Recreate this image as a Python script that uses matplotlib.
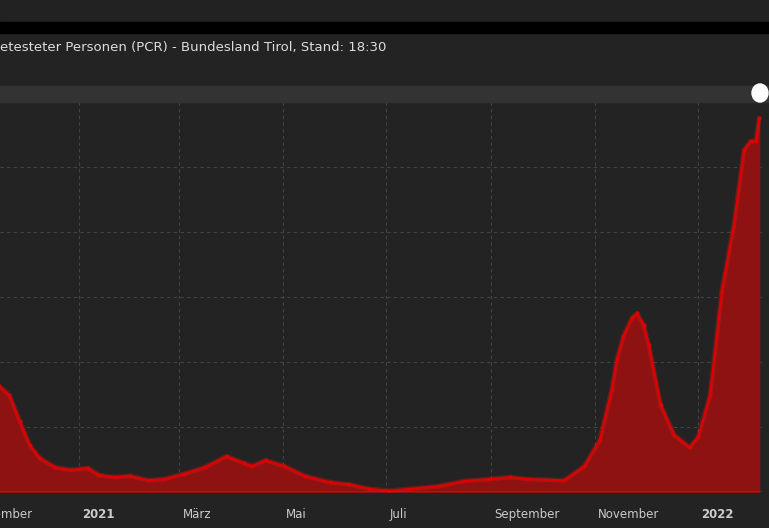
import matplotlib
matplotlib.use("Agg")
import matplotlib.pyplot as plt
import numpy as np
import pandas as pd
from matplotlib.patches import Rectangle, Ellipse

dates = ["2020-11-15","2020-11-21","2020-11-27","2020-12-03","2020-12-09","2020-12-18","2020-12-27",
 "2021-01-06","2021-01-13","2021-01-22","2021-01-31","2021-02-11","2021-02-20","2021-03-04","2021-03-16",
 "2021-03-29","2021-04-08","2021-04-13","2021-04-21","2021-05-02","2021-05-14","2021-05-29","2021-06-09",
 "2021-06-21","2021-07-03","2021-07-15","2021-08-01","2021-08-16","2021-08-31","2021-09-12","2021-09-23",
 "2021-10-14","2021-10-26","2021-11-04","2021-11-11","2021-11-14","2021-11-18","2021-11-23","2021-11-26",
 "2021-11-30","2021-12-03","2021-12-10",
 "2021-12-18","2021-12-27","2022-01-01","2022-01-08","2022-01-15","2022-01-22","2022-01-28","2022-02-01",
 "2022-02-04","2022-02-06"]
values = [1630,1490,1100,720,520,380,340,370,260,230,250,180,200,280,380,550,450,400,490,400,250,150,120,
 50,20,50,90,170,200,230,200,180,400,800,1570,2030,2400,2680,2750,2570,2260,1340,880,690,850,1490,3100,
 4100,5260,5400,5400,5750]
tick_dates = ["2020-12-01","2021-01-01","2021-03-01","2021-05-01","2021-07-01","2021-09-01","2021-11-01","2022-01-01"]
tick_labels = ["Dezember","2021","März","Mai","Juli","September","November","2022"]
title = "etesteter Personen (PCR) - Bundesland Tirol, Stand: 18:30"

d = pd.to_datetime(dates)
v = np.array(values)
FONT = ["Liberation Sans Narrow", "DejaVu Sans"]

W, H = 769, 528
fig = plt.figure(figsize=(W/100, H/100), dpi=100, facecolor="#232323")
fig.patches.append(Rectangle((0, (H-22)/H), 1, 22/H, transform=fig.transFigure, color="#222222", zorder=0))
fig.patches.append(Rectangle((0, (H-33)/H), 1, 11/H, transform=fig.transFigure, color="#000000", zorder=0))
fig.patches.append(Rectangle((0, (H-102)/H), 1, 16/H, transform=fig.transFigure, color="#333333", zorder=0))
fig.patches.append(Ellipse((760/W, (H-93)/H), 16/W, 18/H, transform=fig.transFigure, color="#ffffff", zorder=2))
fig.text(0, (H-48)/H, title, color="#dddddd", fontsize=9.5, va="center", ha="left", family=FONT)

ax = fig.add_axes([0, 36/H, 762/W, 390/H])
ax.set_facecolor("#232323")
x0 = pd.Timestamp("2021-01-01") - pd.Timedelta(days=46.6)
x1 = pd.Timestamp("2022-01-01") + pd.Timedelta(days=37.7)
ax.set_xlim(x0, x1)
ax.set_ylim(0, 6000)
ax.fill_between(d, v, color="#8e1212", zorder=2)
ax.plot(d, v, color="#ff1a1a", lw=3.5, alpha=0.25, zorder=3)
ax.plot(d, v, color="#e00000", lw=1.4, marker="o", ms=1.8, zorder=4)
for s in ax.spines.values():
    s.set_visible(False)
ax.axhline(0, color="#777777", lw=1, zorder=5)
ax.set_yticks(range(0, 6001, 1000))
ax.set_yticklabels([])
td = pd.to_datetime(tick_dates)
ax.set_xticks(td[1:])
ax.set_xticklabels([])
ax.tick_params(length=0)
ax.grid(True, color="#444444", ls=(0, (3, 3)), lw=0.8)
for t, lab in zip(td, tick_labels):
    bold = lab.isdigit()
    if lab == "Dezember":
        ax.text(pd.Timestamp("2020-12-05"), -0.04, lab, transform=ax.get_xaxis_transform(), ha="right", va="top",
                color="#cccccc", fontsize=8.5, family=FONT)
        continue
    ax.text(t + pd.Timedelta(days=2), -0.04, lab, transform=ax.get_xaxis_transform(), ha="left", va="top",
            color="#cccccc", fontsize=8.5, fontweight="bold" if bold else "normal", family=FONT)
fig.savefig("out.png", dpi=100, facecolor=fig.get_facecolor())
